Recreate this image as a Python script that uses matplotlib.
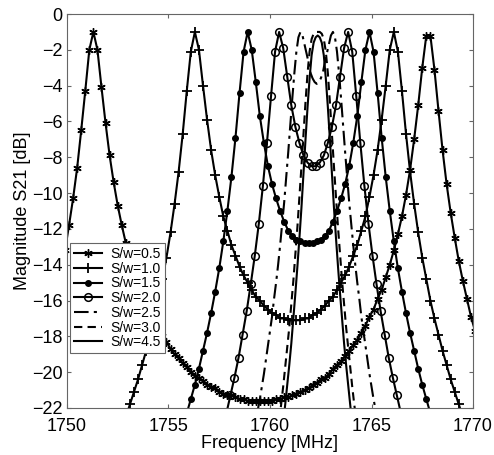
import numpy as np
import matplotlib
matplotlib.use('Agg')
import matplotlib.pyplot as plt

plt.rcParams['font.family'] = ['Liberation Sans', 'DejaVu Sans']

# |S21| in dB, one list per spacing ratio S/w.
# each curve is sampled on a uniform grid: first frequency + step (MHz)
sw05_start, sw05_step = 1749.9, 0.2
sw05_db = [-13.2, -11.8, -10.3, -8.6, -6.5, -4.3, -2.0, -1.0, -2.0, -4.1,
           -6.1, -7.9, -9.4, -10.7, -11.8, -12.8, -13.6, -14.4, -15.0, -15.7,
           -16.2, -16.7, -17.2, -17.6, -18.0, -18.3, -18.7, -19.0, -19.2, -19.5,
           -19.7, -20.0, -20.2, -20.3, -20.5, -20.7, -20.8, -20.9, -21.1, -21.2,
           -21.3, -21.3, -21.4, -21.5, -21.5, -21.6, -21.6, -21.6, -21.6, -21.6,
           -21.6, -21.6, -21.5, -21.5, -21.4, -21.4, -21.3, -21.2, -21.1, -21.0,
           -20.9, -20.7, -20.6, -20.4, -20.3, -20.1, -19.8, -19.6, -19.4, -19.1,
           -18.8, -18.5, -18.2, -17.8, -17.4, -16.9, -16.5, -15.9, -15.4, -14.7,
           -14.0, -13.2, -12.3, -11.3, -10.1, -8.7, -7.0, -5.1, -3.0, -1.2,
           -1.2, -3.1, -5.4, -7.6, -9.5, -11.1, -12.5, -13.8, -14.9, -15.9,
           -16.9, -17.7]

sw10_start, sw10_step = 1752.9, 0.2
sw10_db = [-22.5, -21.8, -21.1, -20.4, -19.6, -18.8, -17.9, -17.0, -16.0, -14.8,
           -13.6, -12.2, -10.6, -8.8, -6.7, -4.3, -2.1, -1.0, -2.0, -4.0,
           -5.9, -7.6, -9.0, -10.2, -11.3, -12.1, -12.9, -13.5, -14.1, -14.6,
           -15.0, -15.4, -15.8, -16.0, -16.3, -16.5, -16.7, -16.8, -17.0, -17.0,
           -17.1, -17.1, -17.1, -17.1, -17.0, -17.0, -16.8, -16.7, -16.5, -16.3,
           -16.0, -15.8, -15.4, -15.0, -14.6, -14.1, -13.5, -12.9, -12.1, -11.3,
           -10.2, -9.0, -7.6, -5.9, -4.0, -2.0, -1.0, -2.1, -4.3, -6.7,
           -8.8, -10.6, -12.2, -13.6, -14.8, -16.0, -17.0, -17.9, -18.8, -19.6,
           -20.4, -21.1, -21.8, -22.5]

sw15_start, sw15_step = 1755.9, 0.2
sw15_db = [-22.3, -21.5, -20.7, -19.8, -18.8, -17.8, -16.7, -15.5, -14.2, -12.7,
           -11.0, -9.1, -6.9, -4.4, -2.1, -1.0, -2.0, -3.8, -5.7, -7.2,
           -8.5, -9.5, -10.3, -11.0, -11.6, -12.1, -12.4, -12.6, -12.7, -12.8,
           -12.8, -12.8, -12.7, -12.6, -12.4, -12.1, -11.6, -11.0, -10.3, -9.5,
           -8.5, -7.2, -5.7, -3.8, -2.0, -1.0, -2.1, -4.4, -6.9, -9.1,
           -11.0, -12.7, -14.2, -15.5, -16.7, -17.8, -18.8, -19.8, -20.7, -21.5,
           -22.3]

sw20_start, sw20_step = 1757.85, 0.2
sw20_db = [-22.3, -21.3, -20.3, -19.2, -17.9, -16.6, -15.1, -13.5, -11.7, -9.6,
           -7.2, -4.6, -2.1, -1.0, -1.9, -3.5, -5.1, -6.3, -7.2, -7.9,
           -8.3, -8.5, -8.5, -8.3, -7.9, -7.2, -6.3, -5.1, -3.5, -1.9,
           -1.0, -2.1, -4.6, -7.2, -9.6, -11.7, -13.5, -15.1, -16.6, -17.9,
           -19.2, -20.3, -21.3, -22.3]

sw25_start, sw25_step = 1759.4, 0.1
sw25_db = [-22.1, -21.5, -20.8, -20.1, -19.3, -18.5, -17.7, -16.9, -15.9, -15.0,
           -14.0, -12.9, -11.7, -10.5, -9.1, -7.7, -6.2, -4.7, -3.3, -2.1,
           -1.3, -1.0, -1.2, -1.7, -2.2, -2.7, -3.3, -3.6, -3.8, -3.9,
           -3.8, -3.6, -3.3, -2.7, -2.2, -1.7, -1.2, -1.0, -1.3, -2.1,
           -3.3, -4.7, -6.2, -7.7, -9.1, -10.5, -11.7, -12.9, -14.0, -15.0,
           -15.9, -16.9, -17.7, -18.5, -19.3, -20.1, -20.8, -21.5, -22.1]

sw30_start, sw30_step = 1760.45, 0.1
sw30_db = [-22.7, -21.8, -20.8, -19.7, -18.6, -17.5, -16.2, -14.9, -13.4, -11.9,
           -10.2, -8.5, -6.7, -4.9, -3.3, -2.1, -1.4, -1.1, -1.0, -1.0,
           -1.0, -1.1, -1.4, -2.1, -3.3, -4.9, -6.7, -8.5, -10.2, -11.9,
           -13.4, -14.9, -16.2, -17.5, -18.6, -19.7, -20.8, -21.8, -22.7]

sw45_start, sw45_step = 1760.65, 0.1
sw45_db = [-22.9, -21.8, -20.7, -19.6, -18.4, -17.0, -15.6, -14.1, -12.5, -10.8,
           -8.9, -7.0, -5.2, -3.6, -2.3, -1.6, -1.3, -1.2, -1.3, -1.6,
           -2.3, -3.6, -5.2, -7.0, -8.9, -10.8, -12.5, -14.1, -15.6, -17.0,
           -18.4, -19.6, -20.7, -21.8, -22.9]

labels = ['S/w=0.5', 'S/w=1.0', 'S/w=1.5', 'S/w=2.0', 'S/w=2.5', 'S/w=3.0', 'S/w=4.5']


def freq_grid(start, step, values):
    return start + step * np.arange(len(values))


curves = [
    (sw05_start, sw05_step, sw05_db, dict(marker=(6, 2, 0), ms=6, mew=1.0)),
    (sw10_start, sw10_step, sw10_db, dict(marker='+', ms=7, mew=1.3)),
    (sw15_start, sw15_step, sw15_db, dict(marker='o', ms=4, mfc='k')),
    (sw20_start, sw20_step, sw20_db, dict(marker='o', ms=5.5, mfc='none', mew=1.1)),
    (sw25_start, sw25_step, sw25_db, dict(ls=(0, (7, 2.5, 1.5, 2.5)))),
    (sw30_start, sw30_step, sw30_db, dict(ls=(0, (4, 2.5)))),
    (sw45_start, sw45_step, sw45_db, dict(ls='-')),
]

fig = plt.figure(figsize=(4.94, 4.55), dpi=100)
ax = fig.add_axes([0.1356, 0.1033, 0.8219, 0.8659])
for (start, step, db, style), lab in zip(curves, labels):
    ax.plot(freq_grid(start, step, db), db, color='k', lw=1.5, label=lab, **style)

ax.set_xlim(1750, 1770)
ax.set_ylim(-22, 0)
ax.set_xticks([1750, 1755, 1760, 1765, 1770])
ax.set_yticks(np.arange(-22, 1, 2))
ax.tick_params(direction='in', top=True, right=True, length=3, labelsize=13,
               color='0.4')
ax.tick_params(axis='x', pad=7)
ax.tick_params(axis='y', pad=3)
for sp in ax.spines.values():
    sp.set_color('0.4')
ax.set_xlabel('Frequency [MHz]', fontsize=13, labelpad=0)
ax.set_ylabel('Magnitude S21 [dB]', fontsize=13, labelpad=1)

leg = ax.legend(loc='upper left', bbox_to_anchor=(0.007, 0.419), fontsize=10,
                frameon=True, fancybox=False, edgecolor='0.4', framealpha=1,
                handlelength=2.0, labelspacing=0.05, borderpad=0.3,
                handletextpad=0.6, borderaxespad=0)
leg.get_frame().set_linewidth(0.8)

fig.savefig('out.png')
